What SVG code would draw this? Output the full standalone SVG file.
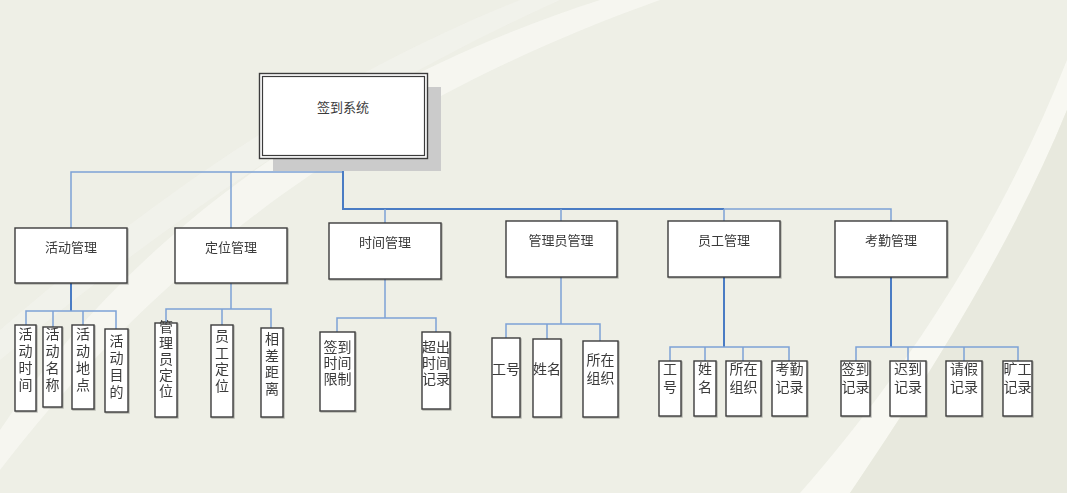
<svg xmlns="http://www.w3.org/2000/svg" width="1067" height="493" viewBox="0 0 1067 493">
<style>
.box{fill:#ffffff;stroke:#3c3c3c;stroke-width:1.4}
.t{font-family:"Liberation Sans","Noto Sans CJK SC",sans-serif;font-size:13px;fill:#3a3a3a;text-anchor:middle}
.tl{font-family:"Liberation Sans","Noto Sans CJK SC",sans-serif;font-size:14px;fill:#3a3a3a;text-anchor:middle}
.main{fill:none;stroke:#4a7cc4;stroke-width:2}
.thin{fill:none;stroke:#7da2d6;stroke-width:1.5}
</style>
<defs>
<filter id="sh" x="-10%" y="-10%" width="130%" height="130%">
<feDropShadow dx="1" dy="1" stdDeviation="0.6" flood-color="#000" flood-opacity="0.25"/>
</filter>
</defs>
<rect x="0" y="0" width="1067" height="493" fill="#eeefe6"/>
<path d="M0,430 C120,250 320,90 600,0 L660,0 C380,100 170,250 0,470 Z" fill="#f7f7f2" opacity="0.8"/>
<path d="M0,330 C150,200 320,80 520,0 L560,0 C360,90 180,210 0,360 Z" fill="#f4f4ee" opacity="0.6"/>
<path d="M800,493 C900,380 1000,230 1067,60 L1067,110 C1010,250 920,390 850,493 Z" fill="#f8f8f3" opacity="0.9"/>
<path d="M850,493 C920,390 1010,250 1067,110 L1067,493 Z" fill="#e8e9de"/>

<g id="connectors">
<polyline class="thin" points="71,228 71,172 343,172"/>
<line class="thin" x1="231" y1="172" x2="231" y2="228"/>
<polyline class="main" points="343,158 343,209 724,209"/>
<polyline class="thin" points="724,209 891,209 891,221"/>
<line class="thin" x1="385" y1="209" x2="385" y2="223"/>
<line class="thin" x1="561" y1="209" x2="561" y2="221"/>
<line class="thin" x1="724" y1="209" x2="724" y2="221"/>

<line class="main" x1="71" y1="283" x2="71" y2="311"/>
<polyline class="thin" points="26,325 26,311 116,311 116,329"/>
<line class="thin" x1="53" y1="311" x2="53" y2="327"/>
<line class="thin" x1="83" y1="311" x2="83" y2="325"/>

<line class="thin" x1="231" y1="283" x2="231" y2="309"/>
<polyline class="thin" points="166,323 166,309 271,309 271,328"/>
<line class="thin" x1="222" y1="309" x2="222" y2="325"/>

<line class="thin" x1="385" y1="279" x2="385" y2="318"/>
<polyline class="thin" points="337,332 337,318 436,318 436,332"/>

<line class="thin" x1="561" y1="277" x2="561" y2="324"/>
<polyline class="thin" points="506,338 506,324 600,324 600,341"/>
<line class="thin" x1="547" y1="324" x2="547" y2="339"/>

<line class="main" x1="724" y1="277" x2="724" y2="347"/>
<polyline class="thin" points="670,361 670,347 789,347 789,361"/>
<line class="thin" x1="705" y1="347" x2="705" y2="361"/>
<line class="thin" x1="743" y1="347" x2="743" y2="361"/>

<line class="main" x1="891" y1="277" x2="891" y2="347"/>
<polyline class="thin" points="856,361 856,347 1018,347 1018,361"/>
<line class="thin" x1="908" y1="347" x2="908" y2="361"/>
<line class="thin" x1="964" y1="347" x2="964" y2="361"/>
</g>

<g id="root">
<rect x="273" y="87" width="168" height="84" fill="#cbcbcb"/>
<rect x="259.5" y="73.5" width="168" height="85" fill="#ffffff" stroke="#3c3c3c" stroke-width="1.4"/>
<rect x="262.5" y="76.5" width="162" height="79" fill="none" stroke="#3c3c3c" stroke-width="1.2"/>
<text class="t" x="343" y="112">签到系统</text>
</g>

<g id="n-huodong" filter="url(#sh)"><rect class="box" x="15" y="228" width="112" height="55"/><text class="t" x="71" y="252">活动管理</text></g>
<g id="n-dingwei" filter="url(#sh)"><rect class="box" x="175" y="228" width="112" height="55"/><text class="t" x="231" y="252">定位管理</text></g>
<g id="n-shijian" filter="url(#sh)"><rect class="box" x="329" y="223" width="112" height="56"/><text class="t" x="385" y="247">时间管理</text></g>
<g id="n-guanliyuan" filter="url(#sh)"><rect class="box" x="506" y="221" width="111" height="56"/><text class="t" x="561" y="245">管理员管理</text></g>
<g id="n-yuangong" filter="url(#sh)"><rect class="box" x="668" y="221" width="112" height="56"/><text class="t" x="724" y="245">员工管理</text></g>
<g id="n-kaoqin" filter="url(#sh)"><rect class="box" x="835" y="221" width="112" height="56"/><text class="t" x="891" y="245">考勤管理</text></g>

<g id="l-hdsj" filter="url(#sh)"><rect class="box" x="15" y="325" width="21" height="86"/><text class="tl" x="25.5" y="339">活<tspan x="25.5" dy="17">动</tspan><tspan x="25.5" dy="17">时</tspan><tspan x="25.5" dy="17">间</tspan></text></g>
<g id="l-hdmc" filter="url(#sh)"><rect class="box" x="43" y="327" width="19" height="80"/><text class="tl" x="52.5" y="339">活<tspan x="52.5" dy="17">动</tspan><tspan x="52.5" dy="17">名</tspan><tspan x="52.5" dy="17">称</tspan></text></g>
<g id="l-hddd" filter="url(#sh)"><rect class="box" x="72" y="325" width="22" height="84"/><text class="tl" x="83" y="339">活<tspan x="83" dy="17">动</tspan><tspan x="83" dy="17">地</tspan><tspan x="83" dy="17">点</tspan></text></g>
<g id="l-hdmd" filter="url(#sh)"><rect class="box" x="105" y="329" width="23" height="83"/><text class="tl" x="116.5" y="346">活<tspan x="116.5" dy="17">动</tspan><tspan x="116.5" dy="17">目</tspan><tspan x="116.5" dy="17">的</tspan></text></g>

<g id="l-glydw" filter="url(#sh)"><rect class="box" x="155" y="323" width="22" height="94"/><text class="tl" x="166" y="332">管<tspan x="166" dy="16">理</tspan><tspan x="166" dy="16">员</tspan><tspan x="166" dy="16">定</tspan><tspan x="166" dy="16">位</tspan></text></g>
<g id="l-ygdw" filter="url(#sh)"><rect class="box" x="211" y="325" width="22" height="92"/><text class="tl" x="222" y="341">员<tspan x="222" dy="16.5">工</tspan><tspan x="222" dy="16.5">定</tspan><tspan x="222" dy="16.5">位</tspan></text></g>
<g id="l-xcjl" filter="url(#sh)"><rect class="box" x="261" y="328" width="22" height="89"/><text class="tl" x="272" y="344">相<tspan x="272" dy="16.5">差</tspan><tspan x="272" dy="16.5">距</tspan><tspan x="272" dy="16.5">离</tspan></text></g>

<g id="l-qdsjxz" filter="url(#sh)"><rect class="box" x="320" y="332" width="35" height="79"/><text class="tl" x="337.5" y="352">签到<tspan x="337.5" dy="16">时间</tspan><tspan x="337.5" dy="16">限制</tspan></text></g>
<g id="l-ccsjjl" filter="url(#sh)"><rect class="box" x="422" y="332" width="28" height="77"/><text class="tl" x="436" y="352">超出<tspan x="436" dy="16">时间</tspan><tspan x="436" dy="16">记录</tspan></text></g>

<g id="l-gh1" filter="url(#sh)"><rect class="box" x="492" y="338" width="28" height="79"/><text class="tl" x="506" y="374">工号</text></g>
<g id="l-xm1" filter="url(#sh)"><rect class="box" x="533" y="339" width="28" height="78"/><text class="tl" x="547" y="374">姓名</text></g>
<g id="l-szzz1" filter="url(#sh)"><rect class="box" x="583" y="341" width="35" height="76"/><text class="tl" x="600.5" y="365">所在<tspan x="600.5" dy="18">组织</tspan></text></g>

<g id="l-gh2" filter="url(#sh)"><rect class="box" x="659" y="361" width="22" height="55"/><text class="tl" x="670" y="374">工<tspan x="670" dy="18">号</tspan></text></g>
<g id="l-xm2" filter="url(#sh)"><rect class="box" x="694" y="361" width="22" height="55"/><text class="tl" x="705" y="374">姓<tspan x="705" dy="18">名</tspan></text></g>
<g id="l-szzz2" filter="url(#sh)"><rect class="box" x="726" y="361" width="35" height="55"/><text class="tl" x="743.5" y="374">所在<tspan x="743.5" dy="18">组织</tspan></text></g>
<g id="l-kqjl" filter="url(#sh)"><rect class="box" x="772" y="361" width="35" height="55"/><text class="tl" x="789.5" y="374">考勤<tspan x="789.5" dy="18">记录</tspan></text></g>

<g id="l-qdjl" filter="url(#sh)"><rect class="box" x="841" y="361" width="29" height="55"/><text class="tl" x="855.5" y="374">签到<tspan x="855.5" dy="18">记录</tspan></text></g>
<g id="l-cdjl" filter="url(#sh)"><rect class="box" x="890" y="361" width="36" height="55"/><text class="tl" x="908" y="374">迟到<tspan x="908" dy="18">记录</tspan></text></g>
<g id="l-qjjl" filter="url(#sh)"><rect class="box" x="946" y="361" width="36" height="55"/><text class="tl" x="964" y="374">请假<tspan x="964" dy="18">记录</tspan></text></g>
<g id="l-kgjl" filter="url(#sh)"><rect class="box" x="1003" y="361" width="29" height="55"/><text class="tl" x="1017.5" y="374">旷工<tspan x="1017.5" dy="18">记录</tspan></text></g>
</svg>
